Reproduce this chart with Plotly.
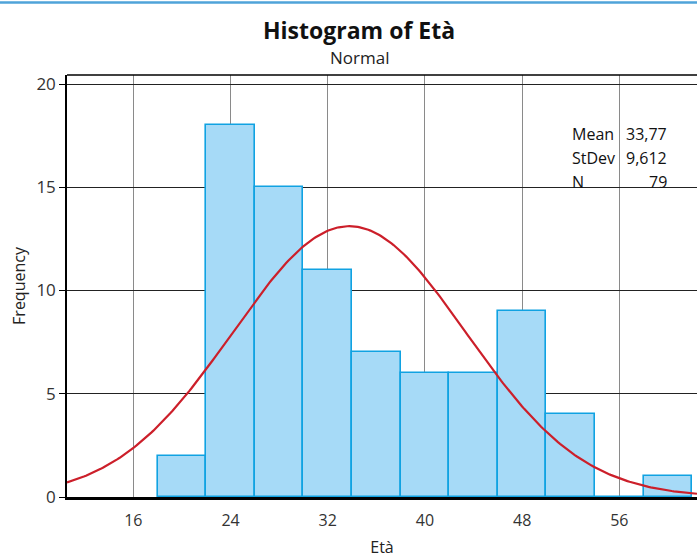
import numpy as np
import plotly.graph_objects as go

bin_centers = [20, 24, 28, 32, 36, 40, 44, 48, 52, 56, 60]
counts = [2, 18, 15, 11, 7, 6, 6, 9, 4, 0, 1]
bin_width = 4
mean_val = 33.77
sd_val = 9.612
n_val = 79
x_ticks = [16, 24, 32, 40, 48, 56]
y_ticks = [0, 5, 10, 15, 20]
stat_labels = ["Mean", "StDev", "N"]
stat_values = ["33,77", "9,612", "79"]

FONT = "Open Sans"
xr = [10.54, 62.39]
yr = [0, 20.44]

fig = go.Figure()
fig.add_trace(go.Bar(
    x=bin_centers, y=counts, width=bin_width,
    marker=dict(color="#A6DAF7", line=dict(color="#10A2E2", width=1.6)),
    hoverinfo="skip", showlegend=False,
))
xs = np.linspace(xr[0], xr[1], 300)
ys = n_val * bin_width / (sd_val * np.sqrt(2 * np.pi)) * np.exp(-0.5 * ((xs - mean_val) / sd_val) ** 2)
fig.add_trace(go.Scatter(x=xs, y=ys, mode="lines", line=dict(color="#CC1F2A", width=2.2),
                         hoverinfo="skip", showlegend=False))

fig.update_layout(
    width=697, height=558,
    margin=dict(l=67, r=0, t=75, b=61),
    paper_bgcolor="white", plot_bgcolor="white",
    font=dict(family=FONT, color="#333333", size=15),
    bargap=0,
    xaxis=dict(range=xr, tickvals=x_ticks, showgrid=True, gridcolor="#8a8a8a", gridwidth=1.2,
               showline=True, linecolor="black", linewidth=3, ticks="outside", ticklen=7,
               tickcolor="rgba(0,0,0,0)", zeroline=False,
               tickfont=dict(size=16, color="#333333"),
               title=dict(text="Età", font=dict(size=16, color="#222222"), standoff=12)),
    yaxis=dict(range=yr, tickvals=y_ticks, showgrid=True, gridcolor="#222222", gridwidth=1,
               showline=True, linecolor="black", linewidth=1.5, ticks="outside", ticklen=6,
               tickcolor="black", zeroline=False,
               tickfont=dict(size=17, color="#333333"),
               title=dict(text="Frequency", font=dict(size=16, color="#222222"), standoff=7)),
)

# top frame line
fig.add_shape(type="line", xref="paper", yref="paper", x0=0, x1=1, y0=1, y1=1,
              line=dict(color="black", width=1.5))
# top separator line
fig.add_shape(type="line", xref="paper", yref="paper", x0=-0.2, x1=1.1, y0=(497 - 2.5) / 422,
              y1=(497 - 2.5) / 422, line=dict(color="#4FA3D9", width=2.5))

fig.add_annotation(text="<b>Histogram of Età</b>", xref="paper", yref="paper",
                   x=(359 - 67) / 630, y=(497 - 30) / 422, showarrow=False,
                   font=dict(size=23, color="#111111", family=FONT), yanchor="middle")
fig.add_annotation(text="Normal", xref="paper", yref="paper",
                   x=(359 - 67) / 630, y=(497 - 58) / 422, showarrow=False,
                   font=dict(size=17, color="#222222", family=FONT), yanchor="middle")

row_y = [134, 158, 182]
for lab, val, py in zip(stat_labels, stat_values, row_y):
    fig.add_annotation(text=lab, xref="paper", yref="paper", x=(570 - 67) / 630,
                       y=(497 - py) / 422, xanchor="left", yanchor="middle", showarrow=False,
                       font=dict(size=16, color="#111111", family=FONT))
    fig.add_annotation(text=val, xref="paper", yref="paper", x=(669 - 67) / 630,
                       y=(497 - py) / 422, xanchor="right", yanchor="middle", showarrow=False,
                       font=dict(size=16, color="#111111", family=FONT))

fig.write_html("out.html", config={"displayModeBar": False},
               post_script="document.body.style.margin='0';document.body.style.overflow='hidden';")
